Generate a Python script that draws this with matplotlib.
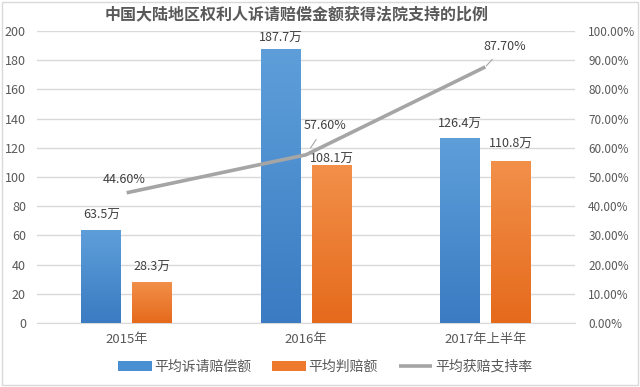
import matplotlib
matplotlib.use("Agg")
import matplotlib.pyplot as plt
import numpy as np
from matplotlib.ticker import FuncFormatter
from matplotlib.colors import LinearSegmentedColormap

plt.rcParams['font.family'] = ['Noto Sans CJK SC', 'DejaVu Sans']

categories = ["2015年", "2016年", "2017年上半年"]
claim = [63.5, 187.7, 126.4]
award = [28.3, 108.1, 110.8]
rate = [44.6, 57.6, 87.7]
claim_labels = ["63.5万", "187.7万", "126.4万"]
award_labels = ["28.3万", "108.1万", "110.8万"]
rate_labels = ["44.60%", "57.60%", "87.70%"]

# label offsets (points above bar top) as placed in the original
claim_off = [11, 7.5, 10]
award_off = [10, 4, 12]

fig = plt.figure(figsize=(6.4, 3.87), dpi=100)
ax = fig.add_axes([0.0578, 0.1654, 0.8406, 0.7545])
ax2 = ax.twinx()

x = np.arange(len(categories))
w = 0.22
off = 0.142
blue = "#4A8FD2"
orange = "#EE7A2E"
grey_line = "#A5A5A5"
txt = "#404040"

b1 = ax.bar(x - off, claim, w, color=blue, label="平均诉请赔偿额", zorder=3)
b2 = ax.bar(x + off, award, w, color=orange, label="平均判赔额", zorder=3)

cm_blue = LinearSegmentedColormap.from_list("b", ["#3A7BC2", "#5E9FDA"])
cm_orange = LinearSegmentedColormap.from_list("o", ["#E56A1C", "#F2904A"])
grad = np.linspace(0, 1, 256).reshape(-1, 1)
for bars, cm in ((b1, cm_blue), (b2, cm_orange)):
    for p in bars:
        x0, y0 = p.get_x(), p.get_y()
        im = ax.imshow(grad, cmap=cm, origin='lower', aspect='auto',
                       extent=[x0, x0 + p.get_width(), y0, y0 + p.get_height()], zorder=3.5)
        im.set_clip_path(p)

l, = ax2.plot(x, rate, color=grey_line, lw=2.6, label="平均获赔支持率", zorder=4,
              solid_capstyle='butt')

ax.set_xlim(-0.5, 2.5)
ax.set_ylim(0, 200)
ax.set_yticks(range(0, 201, 20))
ax2.set_ylim(0, 100)
ax2.set_yticks(range(0, 101, 10))
ax2.yaxis.set_major_formatter(FuncFormatter(lambda v, p: f"{v:.2f}%"))
ax.set_xticks(x)
ax.set_xticklabels(categories)
ax.grid(axis='y', color="#D9D9D9", lw=1, zorder=0)
ax.set_axisbelow(True)
for a in (ax, ax2):
    for s in a.spines.values():
        s.set_visible(False)
    a.tick_params(length=0, colors="#595959")
ax.spines['bottom'].set_visible(True)
ax.spines['bottom'].set_color("#D9D9D9")
ax.tick_params(axis='x', pad=7, labelsize=9.5)
ax.tick_params(axis='y', pad=8, labelsize=9)
ax2.tick_params(axis='y', pad=9.5, labelsize=8.5)

for i in range(3):
    ax.annotate(claim_labels[i], (x[i] - off, claim[i]), xytext=(0, claim_off[i]), textcoords='offset points',
                ha='center', va='center', fontsize=9, color=txt)
    ax.annotate(award_labels[i], (x[i] + off, award[i]), xytext=(0, award_off[i]), textcoords='offset points',
                ha='center', va='center', fontsize=9, color=txt)

ax2.annotate(rate_labels[0], (x[0], rate[0]), xytext=(-1.5, 9.5), textcoords='offset points',
             ha='center', va='center', fontsize=9, color=txt)
ax2.annotate(rate_labels[1], (x[1], rate[1]), xytext=(14, 21), textcoords='offset points',
             ha='center', va='center', fontsize=9, color=txt,
             arrowprops=dict(arrowstyle='-', color="#A6A6A6", lw=0.8, shrinkA=4, shrinkB=6))
ax2.annotate(rate_labels[2], (x[2], rate[2]), xytext=(14, 15), textcoords='offset points',
             ha='center', va='center', fontsize=9, color=txt,
             arrowprops=dict(arrowstyle='-', color="#A6A6A6", lw=0.8, shrinkA=4, shrinkB=1))

fig.text(0.463, 0.962, "中国大陆地区权利人诉请赔偿金额获得法院支持的比例", ha='center', va='center',
         fontsize=11.5, fontweight='bold', color="#595959")

fig.legend(handles=[b1, b2, l], loc='center', bbox_to_anchor=(0.508, 0.052), ncol=3, frameon=False,
           fontsize=10, handlelength=2.4, handleheight=0.7, columnspacing=1.5, handletextpad=0.2,
           labelcolor="#595959")

fig.patches.append(plt.Rectangle((0.003, 0.005), 0.994, 0.99, transform=fig.transFigure,
                                 fill=False, edgecolor="#D9D9D9", lw=1))

fig.savefig("out.png", dpi=100)
